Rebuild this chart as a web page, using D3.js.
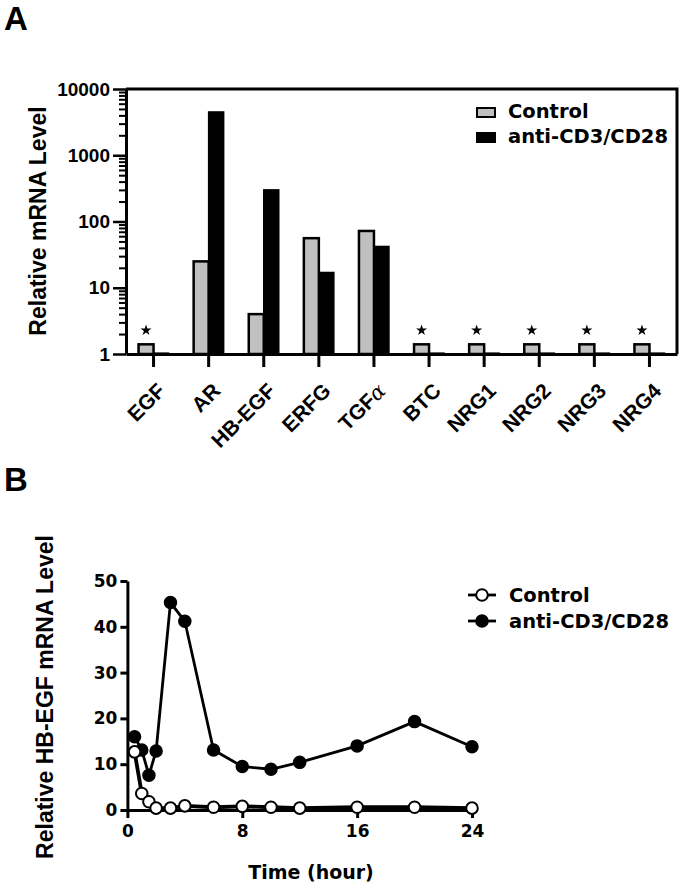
<!DOCTYPE html>
<html><head><meta charset="utf-8">
<script src="https://cdn.jsdelivr.net/npm/d3@7"></script>
<style>body{margin:0;background:#fff}</style>
</head><body>
<svg id="c" width="683" height="890"></svg>
<script>
// ---------- Panel A data ----------
const categories = ["EGF","AR","HB-EGF","ERFG","TGFα","BTC","NRG1","NRG2","NRG3","NRG4"];
const controlValues = [1.4,25,4,56,72,1.4,1.4,1.4,1.4,1.4];
const antiValues = [1.03,4500,300,17,42,1.03,1.03,1.03,1.03,1.03];
const starred = ["EGF","BTC","NRG1","NRG2","NRG3","NRG4"];
const logTicks = [1,10,100,1000,10000];
const seriesNames = ["Control","anti-CD3/CD28"];
// ---------- Panel B data ----------
const timeHours = [0.5,1,1.5,2,3,4,6,8,10,12,16,20,24];
const controlTime = [12.7,3.6,1.8,0.4,0.4,0.9,0.6,0.8,0.6,0.4,0.6,0.6,0.4];
const antiTime = [16,13.1,7.6,12.9,45.3,41.2,13.1,9.5,8.9,10.4,14,19.3,13.8];
const timeTicks = [0,8,16,24];
const levelTicks = [0,10,20,30,40,50];

const FA = "'Liberation Sans', Arial, Helvetica, sans-serif";
const FD = "'DejaVu Sans', sans-serif";
const svg = d3.select("#c");

// panel letters
svg.append("text").attr("x",4).attr("y",30).text("A")
  .attr("font-family",FA).attr("font-weight","bold").attr("font-size",33);
svg.append("text").attr("x",4).attr("y",491).text("B")
  .attr("font-family",FA).attr("font-weight","bold").attr("font-size",33);

// ================= Panel A =================
const x = d3.scaleBand().domain(categories).range([126,677]);
const y = d3.scaleLog().domain([1,10000]).range([354,89]);
const gA = svg.append("g");
const bw = 15;
const cx = d => x(d) + x.bandwidth()/2;

// frame (top + right)
gA.append("path").attr("d", d3.line()([[x.range()[0], y(10000)],[x.range()[1], y(10000)],[x.range()[1], y(1)]]))
  .attr("fill","none").attr("stroke","#000").attr("stroke-width",3);

// bars
gA.selectAll("rect.ctl").data(categories).join("rect").attr("class","ctl")
  .attr("x", d => cx(d) - bw)
  .attr("y", (d,i) => y(controlValues[i]))
  .attr("width", bw)
  .attr("height", (d,i) => y(1) - y(controlValues[i]))
  .attr("fill","#c0c0c0").attr("stroke","#000").attr("stroke-width",2.5);
gA.selectAll("rect.anti").data(categories).join("rect").attr("class","anti")
  .attr("x", d => cx(d))
  .attr("y", (d,i) => y(antiValues[i]))
  .attr("width", bw)
  .attr("height", (d,i) => y(1) - y(antiValues[i]))
  .attr("fill","#000").attr("stroke","#000").attr("stroke-width",1.5);

// stars
gA.selectAll("path.star").data(starred).join("path").attr("class","star")
  .attr("transform", d => `translate(${cx(d) - bw/2},${y(controlValues[categories.indexOf(d)]) - 14})`)
  .attr("d", d3.symbol(d3.symbolStar, 38)).attr("fill","#000");

// y axis (log): minor then major
const minor = [];
for (let e = 0; e < 4; e++) for (let m = 2; m <= 9; m++) minor.push(m * Math.pow(10,e));
const yMinor = gA.append("g").attr("transform",`translate(${x.range()[0]},0)`)
  .call(d3.axisLeft(y).tickValues(minor).tickSize(7).tickSizeOuter(0).tickFormat(""));
yMinor.select(".domain").remove();
yMinor.selectAll("line").attr("stroke-width",2);
const yAx = gA.append("g").attr("transform",`translate(${x.range()[0]},0)`)
  .call(d3.axisLeft(y).tickValues(logTicks).tickSize(13).tickSizeOuter(0).tickPadding(3).tickFormat(d3.format("d")));
yAx.select(".domain").attr("stroke-width",3);
yAx.selectAll("line").attr("stroke-width",2.5);
yAx.selectAll("text").attr("font-family",FA).attr("font-weight","bold").attr("font-size",19).attr("fill","#000");

// x axis
const xAx = gA.append("g").attr("transform",`translate(0,${y(1)})`)
  .call(d3.axisBottom(x).tickSize(13).tickSizeOuter(0));
xAx.select(".domain").attr("stroke-width",3);
xAx.selectAll("line").attr("stroke-width",3);
xAx.selectAll("text")
  .attr("font-family",FA).attr("font-weight","bold").attr("font-size",21).attr("fill","#000")
  .attr("text-anchor","end").attr("y",0).attr("dy","0.75em")
  .attr("transform","translate(2,27) rotate(-45)")
  .each(function(d){
    if (d === "TGFα") {
      const t = d3.select(this); t.text("TGF");
      t.append("tspan").text("α").attr("font-family","'DejaVu Serif', serif")
        .attr("font-style","italic").attr("font-weight","normal");
    }
  });

// y title
gA.append("text").attr("transform","translate(46,221) rotate(-90)")
  .attr("text-anchor","middle").text("Relative mRNA Level")
  .attr("font-family",FA).attr("font-weight","bold").attr("font-size",23);

// legend A
const legA = gA.append("g");
seriesNames.forEach((s,i) => {
  legA.append("rect").attr("x",477).attr("y",108 + i*25).attr("width",18).attr("height",9)
    .attr("fill", i === 0 ? "#c0c0c0" : "#000").attr("stroke","#000").attr("stroke-width",2);
  legA.append("text").attr("x",508).attr("y",118 + i*25).text(s)
    .attr("font-family",FD).attr("font-weight","bold").attr("font-size",19.5);
});

// ================= Panel B =================
const xT = d3.scaleLinear().domain([0,24]).range([127.4,472]);
const yT = d3.scaleLinear().domain([0,50]).range([810,581]);
const gB = svg.append("g");

const yBx = gB.append("g").attr("transform",`translate(${xT(0)},0)`)
  .call(d3.axisLeft(yT).tickValues(levelTicks).tickSize(7).tickSizeOuter(0).tickPadding(3));
yBx.select(".domain").attr("stroke-width",3);
yBx.selectAll("line").attr("stroke-width",3);
yBx.selectAll("text").attr("font-family",FD).attr("font-weight","bold").attr("font-size",17).attr("fill","#000");

const xBx = gB.append("g").attr("transform",`translate(0,${yT(0)})`)
  .call(d3.axisBottom(xT).tickValues(timeTicks).tickSize(8).tickSizeOuter(0).tickPadding(7));
xBx.select(".domain").attr("stroke-width",3);
xBx.selectAll("line").attr("stroke-width",3);
xBx.selectAll("text").attr("font-family",FD).attr("font-weight","bold").attr("font-size",17).attr("fill","#000");

gB.append("text").attr("x",311).attr("y",879).attr("text-anchor","middle").text("Time (hour)")
  .attr("font-family",FD).attr("font-weight","bold").attr("font-size",19);
gB.append("text").attr("transform","translate(53,697) rotate(-90)")
  .attr("text-anchor","middle").text("Relative HB-EGF mRNA Level")
  .attr("font-family",FA).attr("font-weight","bold").attr("font-size",23);

const line = d3.line().x(d => xT(d[0])).y(d => yT(d[1]));
const antiPts = timeHours.map((t,i) => [t, antiTime[i]]);
const ctlPts = timeHours.map((t,i) => [t, controlTime[i]]);
gB.append("path").attr("d", line(antiPts)).attr("fill","none").attr("stroke","#000").attr("stroke-width",2.8);
gB.selectAll("circle.anti").data(antiPts).join("circle").attr("class","anti")
  .attr("cx", d => xT(d[0])).attr("cy", d => yT(d[1])).attr("r",6)
  .attr("fill","#000").attr("stroke","#000").attr("stroke-width",1.5);
gB.append("path").attr("d", line(ctlPts)).attr("fill","none").attr("stroke","#000").attr("stroke-width",3.8);
gB.selectAll("circle.ctl").data(ctlPts).join("circle").attr("class","ctl")
  .attr("cx", d => xT(d[0])).attr("cy", d => yT(d[1])).attr("r",5.8)
  .attr("fill","#fff").attr("stroke","#000").attr("stroke-width",2);

// legend B
const legB = gB.append("g");
seriesNames.forEach((s,i) => {
  const yy = 595 + i*26;
  legB.append("line").attr("x1",468).attr("x2",496).attr("y1",yy).attr("y2",yy)
    .attr("stroke","#000").attr("stroke-width",2.8);
  legB.append("circle").attr("cx",482).attr("cy",yy).attr("r",5.8)
    .attr("fill", i === 0 ? "#fff" : "#000").attr("stroke","#000").attr("stroke-width",2);
  legB.append("text").attr("x",509).attr("y",yy).attr("dy","0.36em").text(s)
    .attr("font-family",FD).attr("font-weight","bold").attr("font-size",19.5);
});
</script>
</body></html>
